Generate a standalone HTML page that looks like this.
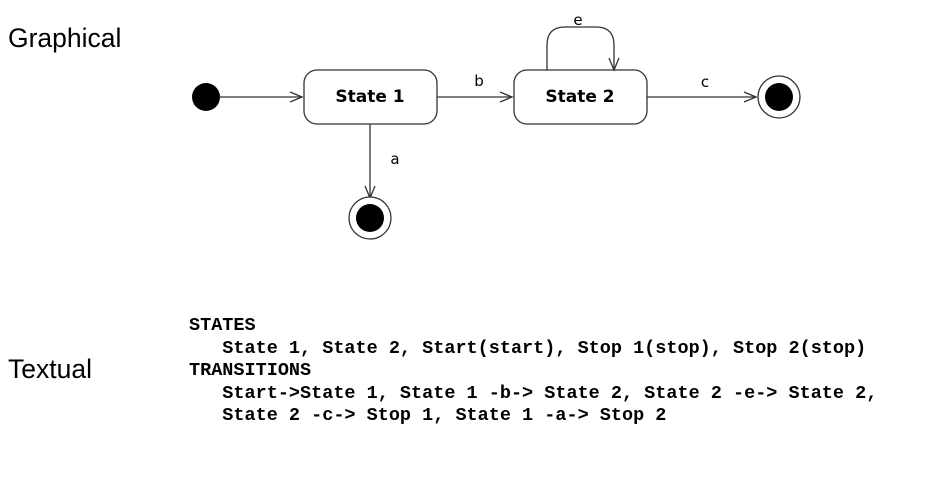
<!DOCTYPE html>
<html><head><meta charset="utf-8"><style>
body{margin:0;background:#fff;width:928px;height:488px;overflow:hidden;position:relative}
.lbl{position:absolute;font-family:"Liberation Sans",sans-serif;font-size:26.5px;color:#000}
pre{position:absolute;left:189px;top:315px;margin:0;font-family:"Liberation Mono",monospace;font-weight:bold;font-size:18.5px;line-height:22.5px;color:#000}
</style></head><body>
<div class="lbl" style="left:8px;top:23px">Graphical</div>
<div class="lbl" style="left:8px;top:354px">Textual</div>
<svg width="928" height="300" style="position:absolute;left:0;top:0" font-family="DejaVu Sans, Liberation Sans, sans-serif">
<g stroke="#333" stroke-width="1.3" fill="none">
<circle cx="206" cy="97" r="14" fill="#000" stroke="none"/>
<line x1="220" y1="97" x2="302" y2="97"/><polyline points="290,92 302,97 290,102"/>
<rect x="304" y="70" width="133" height="54" rx="13" fill="#fff"/>
<line x1="437" y1="97" x2="512" y2="97"/><polyline points="500,92 512,97 500,102"/>
<rect x="514" y="70" width="133" height="54" rx="13" fill="#fff"/>
<path d="M547 70 V45 Q547 27 565 27 H596 Q614 27 614 45 V70"/><polyline points="609,58 614,70 619,58"/>
<line x1="647" y1="97" x2="756" y2="97"/><polyline points="744,92 756,97 744,102"/>
<circle cx="779" cy="97" r="21" fill="#fff"/><circle cx="779" cy="97" r="14" fill="#000" stroke="none"/>
<line x1="370" y1="124" x2="370" y2="198"/><polyline points="365,186 370,198 375,186"/>
<circle cx="370" cy="218" r="21" fill="#fff"/><circle cx="370" cy="218" r="14" fill="#000" stroke="none"/>
</g>
<g font-size="17" font-weight="bold" text-anchor="middle">
<text x="370" y="102">State 1</text><text x="580" y="102">State 2</text></g>
<g font-size="15" text-anchor="middle">
<text x="479" y="86">b</text><text x="705" y="87">c</text><text x="578" y="25">e</text><text x="395" y="164">a</text></g>
</svg>
<pre>STATES
   State 1, State 2, Start(start), Stop 1(stop), Stop 2(stop)
TRANSITIONS
   Start-&gt;State 1, State 1 -b-&gt; State 2, State 2 -e-&gt; State 2,
   State 2 -c-&gt; Stop 1, State 1 -a-&gt; Stop 2</pre>
</body></html>
